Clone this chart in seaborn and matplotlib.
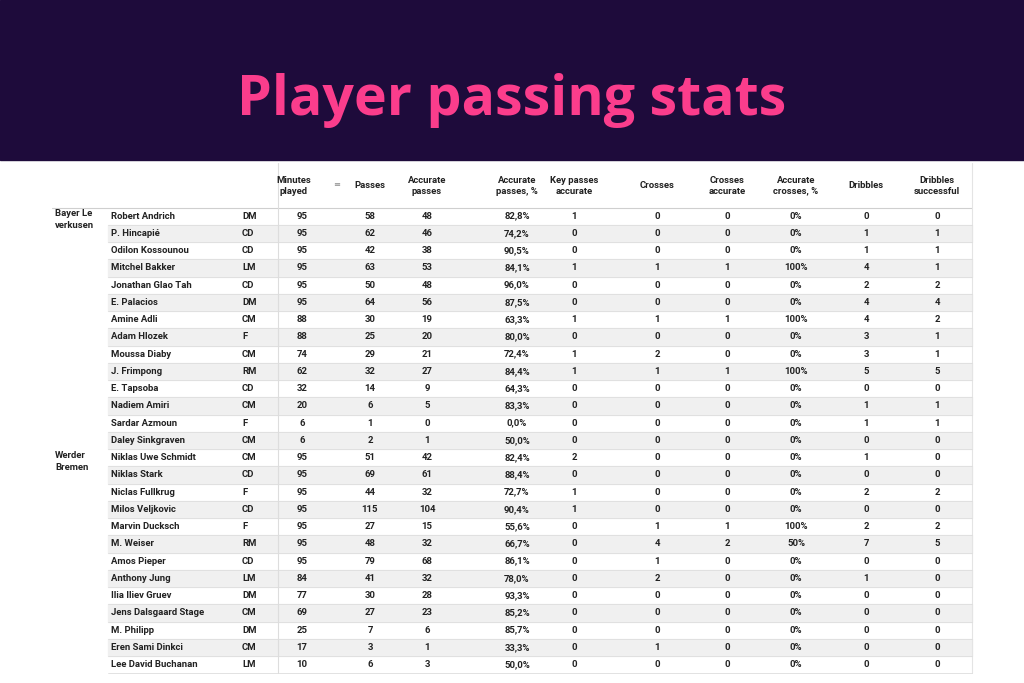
import numpy as np
import pandas as pd
import seaborn as sns
import matplotlib.pyplot as plt

sns.set_theme(style='white')
plt.rcParams['font.family'] = ['Roboto', 'DejaVu Sans']

# table data
teams = ['Bayer Le\nverkusen'] + [''] * 13 + ['Werder\nBremen'] + [''] * 12
players = ['Robert Andrich', 'P. Hincapié', 'Odilon Kossounou', 'Mitchel Bakker', 'Jonathan Glao Tah',
           'E. Palacios', 'Amine Adli', 'Adam Hlozek', 'Moussa Diaby', 'J. Frimpong', 'E. Tapsoba',
           'Nadiem Amiri', 'Sardar Azmoun', 'Daley Sinkgraven',
           'Niklas Uwe Schmidt', 'Niklas Stark', 'Niclas Fullkrug', 'Milos Veljkovic', 'Marvin Ducksch',
           'M. Weiser', 'Amos Pieper', 'Anthony Jung', 'Ilia Iliev Gruev', 'Jens Dalsgaard Stage',
           'M. Philipp', 'Eren Sami Dinkci', 'Lee David Buchanan']
positions = ['DM', 'CD', 'CD', 'LM', 'CD', 'DM', 'CM', 'F', 'CM', 'RM', 'CD', 'CM', 'F', 'CM',
             'CM', 'CD', 'F', 'CD', 'F', 'RM', 'CD', 'LM', 'DM', 'CM', 'DM', 'CM', 'LM']
minutes = [95, 95, 95, 95, 95, 95, 88, 88, 74, 62, 32, 20, 6, 6,
           95, 95, 95, 95, 95, 95, 95, 84, 77, 69, 25, 17, 10]
passes = [58, 62, 42, 63, 50, 64, 30, 25, 29, 32, 14, 6, 1, 2,
          51, 69, 44, 115, 27, 48, 79, 41, 30, 27, 7, 3, 6]
acc_passes = [48, 46, 38, 53, 48, 56, 19, 20, 21, 27, 9, 5, 0, 1,
              42, 61, 32, 104, 15, 32, 68, 32, 28, 23, 6, 1, 3]
acc_pct = ['82,8%', '74,2%', '90,5%', '84,1%', '96,0%', '87,5%', '63,3%', '80,0%', '72,4%', '84,4%',
           '64,3%', '83,3%', '0,0%', '50,0%',
           '82,4%', '88,4%', '72,7%', '90,4%', '55,6%', '66,7%', '86,1%', '78,0%', '93,3%', '85,2%',
           '85,7%', '33,3%', '50,0%']
key_passes = [1, 0, 0, 1, 0, 0, 1, 0, 1, 1, 0, 0, 0, 0,
              2, 0, 1, 1, 0, 0, 0, 0, 0, 0, 0, 0, 0]
crosses = [0, 0, 0, 1, 0, 0, 1, 0, 2, 1, 0, 0, 0, 0,
           0, 0, 0, 0, 1, 4, 1, 2, 0, 0, 0, 1, 0]
crosses_acc = [0, 0, 0, 1, 0, 0, 1, 0, 0, 1, 0, 0, 0, 0,
               0, 0, 0, 0, 1, 2, 0, 0, 0, 0, 0, 0, 0]
crosses_pct = ['0%', '0%', '0%', '100%', '0%', '0%', '100%', '0%', '0%', '100%', '0%', '0%', '0%', '0%',
               '0%', '0%', '0%', '0%', '100%', '50%', '0%', '0%', '0%', '0%', '0%', '0%', '0%']
dribbles = [0, 1, 1, 4, 2, 4, 4, 3, 3, 5, 0, 1, 1, 0,
            1, 0, 2, 0, 2, 7, 0, 1, 0, 0, 0, 0, 0]
dribbles_ok = [0, 1, 1, 1, 2, 4, 2, 1, 1, 5, 0, 1, 1, 0,
               0, 0, 2, 0, 2, 5, 0, 0, 0, 0, 0, 0, 0]
headers = ['Minutes\nplayed', 'Passes', 'Accurate\npasses', 'Accurate\npasses, %', 'Key passes\naccurate',
           'Crosses', 'Crosses\naccurate', 'Accurate\ncrosses, %', 'Dribbles', 'Dribbles\nsuccessful']

df = pd.DataFrame({'team': teams, 'player': players, 'pos': positions, 'min': minutes, 'passes': passes,
                   'acc': acc_passes, 'acc_pct': acc_pct, 'key': key_passes, 'crosses': crosses,
                   'cacc': crosses_acc, 'cpct': crosses_pct, 'drib': dribbles, 'dok': dribbles_ok})
num_cols = ['min', 'passes', 'acc', 'acc_pct', 'key', 'crosses', 'cacc', 'cpct', 'drib', 'dok']
col_x = [302, 370, 427, 517, 574, 657, 727, 796, 866, 937]

fig = plt.figure(figsize=(10.24, 6.83), dpi=100)
fig.patch.set_facecolor('white')
ax = fig.add_axes([0, 0, 1, 1])
ax.set_xlim(0, 1024)
ax.set_ylim(683, 0)
ax.axis('off')

# banner
ax.axhspan(0, 160, color='#1e0b3b', zorder=0)
ax.text(512, 100, 'Player passing stats', ha='center', va='center', color='#fb3d8c',
        fontsize=40, fontweight='bold', family=['Open Sans', 'DejaVu Sans'])

top, rh = 207.5, 17.25
ink = '#222222'
fs = 6.8
ax.plot([52, 972], [top, top], color='#cfcfcf', lw=0.8)
ax.plot([278, 278], [163, 673], color='#dddddd', lw=0.8)
ax.plot([972, 972], [163, 673], color='#e4e4e4', lw=0.8)
for i, h in enumerate(headers):
    ax.text(col_x[i] + (-8 if i == 0 else 0), 186, h, ha='center', va='center', fontsize=fs,
            fontweight='bold', color=ink, linespacing=1.2)
ax.text(337, 185, '≡', ha='center', va='center', fontsize=6, color='#888888', family='DejaVu Sans')

for r, row in df.iterrows():
    y0 = top + r * rh
    yc = y0 + rh / 2
    if r % 2 == 1:
        ax.axhspan(y0, y0 + rh, xmin=108 / 1024, xmax=972 / 1024, color='#f0f0f0', zorder=0)
    ax.plot([108, 972], [y0 + rh, y0 + rh], color='#dddddd', lw=0.6)
    if row['team']:
        ax.text(55, y0 + 2, row['team'], ha='left', va='top', fontsize=fs, fontweight='bold',
                color=ink, linespacing=1.4)
    ax.text(111, yc, row['player'], ha='left', va='center', fontsize=fs, fontweight='bold', color=ink)
    ax.text(242, yc, row['pos'], ha='left', va='center', fontsize=fs, fontweight='bold', color=ink)
    for c, x in zip(num_cols, col_x):
        ax.text(x, yc, str(row[c]), ha='center', va='center', fontsize=fs, fontweight='bold', color=ink)

fig.savefig('out.png', dpi=100)
